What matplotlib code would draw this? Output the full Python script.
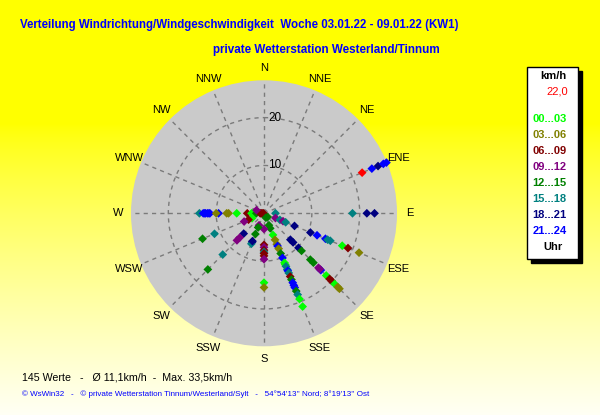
import numpy as np
import matplotlib
matplotlib.use("Agg")
import matplotlib.pyplot as plt
from matplotlib.patches import Rectangle

# ---------------- data ----------------
compass = ["N", "NNE", "NE", "ENE", "E", "ESE", "SE", "SSE",
           "S", "SSW", "SW", "WSW", "W", "WNW", "NW", "NNW"]
hour_labels = ["00...03", "03...06", "06...09", "09...12",
               "12...15", "15...18", "18...21", "21...24"]
hour_colors = ["#00FF00", "#808000", "#800000", "#800080",
               "#008000", "#008080", "#000080", "#0000FF", "#FF0000"]
ring_values = [10, 20]

# direction (compass name), speed km/h, hour class (8 = red marker)
point_dir = (["W"] * 21 + ["E"] * 4 + ["ENE"] * 5 + ["ESE"] * 13 +
             ["SE"] * 16 + ["SSE"] * 25 + ["S"] * 10 + ["SSW"] * 6 +
             ["SW"] * 5 + ["WSW"] * 5 + ["WNW"] * 1)
point_speed = (
    # W
    [13.5, 12.7, 12.4, 12.2, 11.8, 11.5, 11.3, 9.5, 10.0, 7.8, 7.4,
     5.7, 3.5, 2.6, 2.3, 2.0, 1.6, 0.8, 0.4, 0.1, 0.6] +
    # E
    [2.4, 18.5, 21.5, 23.1] +
    # ENE
    [22.2, 24.4, 25.8, 27.0, 27.7] +
    # ESE
    [2.6, 3.6, 4.3, 4.9, 6.9, 10.5, 12.0, 13.9, 14.4, 15.0, 17.7, 19.0, 21.5] +
    # SE
    [1.1, 7.8, 8.6, 10.2, 11.1, 13.7, 14.6, 16.1, 16.8, 16.5, 18.4, 19.4,
     20.0, 20.9, 21.8, 22.3] +
    # SSE
    [1.0, 2.7, 3.4, 4.9, 6.0, 7.0, 7.4, 8.0, 9.1, 10.1, 11.2, 11.6, 12.0,
     12.7, 13.0, 13.5, 14.3, 15.0, 15.7, 16.3, 16.8, 17.6, 18.4, 19.4, 21.1] +
    # S
    [3.3, 6.6, 7.1, 7.7, 8.1, 8.4, 8.9, 9.6, 14.5, 15.5] +
    # SSW
    [2.7, 3.2, 4.7, 6.5, 6.9, 6.3] +
    # SW
    [6.0, 7.2, 8.0, 12.2, 16.6] +
    # WSW
    [2.7, 3.5, 4.5, 11.2, 13.9] +
    # WNW
    [1.7]
)
point_hour = (
    # W
    [5, 7, 7, 7, 7, 7, 7, 7, 1, 1, 1, 0, 2, 0, 0, 0, 4, 2, 2, 2, 2] +
    # E
    [5, 5, 6, 6] +
    # ENE
    [8, 7, 6, 7, 7] +
    # ESE
    [3, 5, 3, 5, 6, 6, 7, 7, 5, 5, 0, 2, 1] +
    # SE
    [4, 6, 6, 6, 4, 4, 4, 3, 7, 3, 0, 2, 2, 0, 1, 1] +
    # SSE
    [4, 4, 4, 0, 1, 1, 7, 1, 4, 7, 0, 0, 5, 5, 7, 5, 2, 4, 7, 7, 7, 4, 5, 0, 0] +
    # S
    [3, 2, 3, 2, 5, 2, 2, 3, 0, 1] +
    # SSW
    [3, 4, 4, 6, 5, 6] +
    # SW
    [6, 3, 3, 5, 4] +
    # WSW
    [0, 2, 3, 5, 4] +
    # WNW
    [3]
)

title1 = "Verteilung Windrichtung/Windgeschwindigkeit  Woche 03.01.22 - 09.01.22 (KW1)"
title2 = "private Wetterstation Westerland/Tinnum"
footer1 = "145 Werte   -   Ø 11,1km/h  -  Max. 33,5km/h"
footer2 = "© WsWin32   -   © private Wetterstation Tinnum/Westerland/Sylt   -   54°54'13'' Nord; 8°19'13'' Ost"
legend_head = "km/h"
legend_value = "22,0"
legend_foot = "Uhr"

# ---------------- figure ----------------
W, H = 600, 415
plt.rcParams['font.family'] = ['Liberation Sans', 'DejaVu Sans']
fig = plt.figure(figsize=(W / 100, H / 100), dpi=100)

# background gradient
bg = fig.add_axes([0, 0, 1, 1])
t = np.linspace(0, 1, 415)[:, None]
b = np.clip((t - 0.3) / 0.7, 0, 1) ** 0.8 * 0.96
img = np.zeros((415, 2, 3))
img[..., 0] = 1
img[..., 1] = 1
img[..., 2] = b
bg.imshow(img, aspect='auto', extent=[0, 1, 0, 1], origin='upper')
bg.set_axis_off()

def fx(px):
    return px / W

def fy(py):
    return 1 - py / H

# polar axes
cx, cy, R = 264, 213.3, 133
rmax = 27.8
ax = fig.add_axes([fx(cx - R), fy(cy + R), 2 * R / W, 2 * R / H], projection='polar')
ax.set_theta_zero_location('N')
ax.set_theta_direction(-1)
ax.set_facecolor('#CACACA')
ax.set_ylim(0, rmax)
ax.set_thetagrids(np.arange(0, 360, 22.5), labels=[])
ax.set_rgrids(ring_values, labels=[])
ax.grid(color='#7A7A7A', linestyle=(0, (3, 3)), linewidth=1)
ax.spines['polar'].set_visible(False)

for rv in ring_values:
    ax.annotate(str(rv), xy=(0, rv), xytext=(3, 0), textcoords='offset points',
                ha='left', va='center', fontsize=8.5, color='black')

for i, name in enumerate(compass):
    ax.text(np.deg2rad(i * 22.5), 30.4, name, ha='center', va='center',
            fontsize=8, color='black', clip_on=False)

angles = np.deg2rad([compass.index(d) * 22.5 for d in point_dir])
cols = [hour_colors[h] for h in point_hour]
ax.scatter(angles, point_speed, c=cols, marker='D', s=20, linewidths=0,
           zorder=5, clip_on=False)

# titles
fig.text(fx(20), fy(25), title1, fontsize=8.3, fontweight='bold', color='#0000FF',
         ha='left', va='center')
fig.text(fx(213), fy(50), title2, fontsize=8.4, fontweight='bold', color='#0000FF',
         ha='left', va='center')

# legend box with shadow
lx0, ly0, lx1, ly1 = 527, 67, 578, 259
fig.patches.append(Rectangle((fx(lx0 + 4), fy(ly1 + 4)), (lx1 - lx0) / W, (ly1 - ly0) / H,
                             transform=fig.transFigure, facecolor='black',
                             edgecolor='black', zorder=1))
fig.patches.append(Rectangle((fx(lx0), fy(ly1)), (lx1 - lx0) / W, (ly1 - ly0) / H,
                             transform=fig.transFigure, facecolor='white',
                             edgecolor='black', linewidth=1, zorder=2))
lcx = (lx0 + lx1) / 2
fig.text(fx(lcx + 1), fy(76), legend_head, fontsize=8, fontweight='bold',
         ha='center', va='center', color='black')
fig.text(fx(lcx + 5), fy(92), legend_value, fontsize=8, ha='center', va='center',
         color='#FF0000')
for i, lab in enumerate(hour_labels):
    fig.text(fx(lcx - 3), fy(119.3 + i * 16), lab, fontsize=8, fontweight='bold',
             ha='center', va='center', color=hour_colors[i])
fig.text(fx(lcx), fy(247), legend_foot, fontsize=8, fontweight='bold',
         ha='center', va='center', color='black')

# footer
fig.text(fx(22), fy(377), footer1, fontsize=7.65, ha='left', va='center', color='black')
fig.text(fx(22), fy(394.5), footer2, fontsize=5.75, ha='left', va='center', color='#0000FF')

fig.savefig('out.png', dpi=100)
